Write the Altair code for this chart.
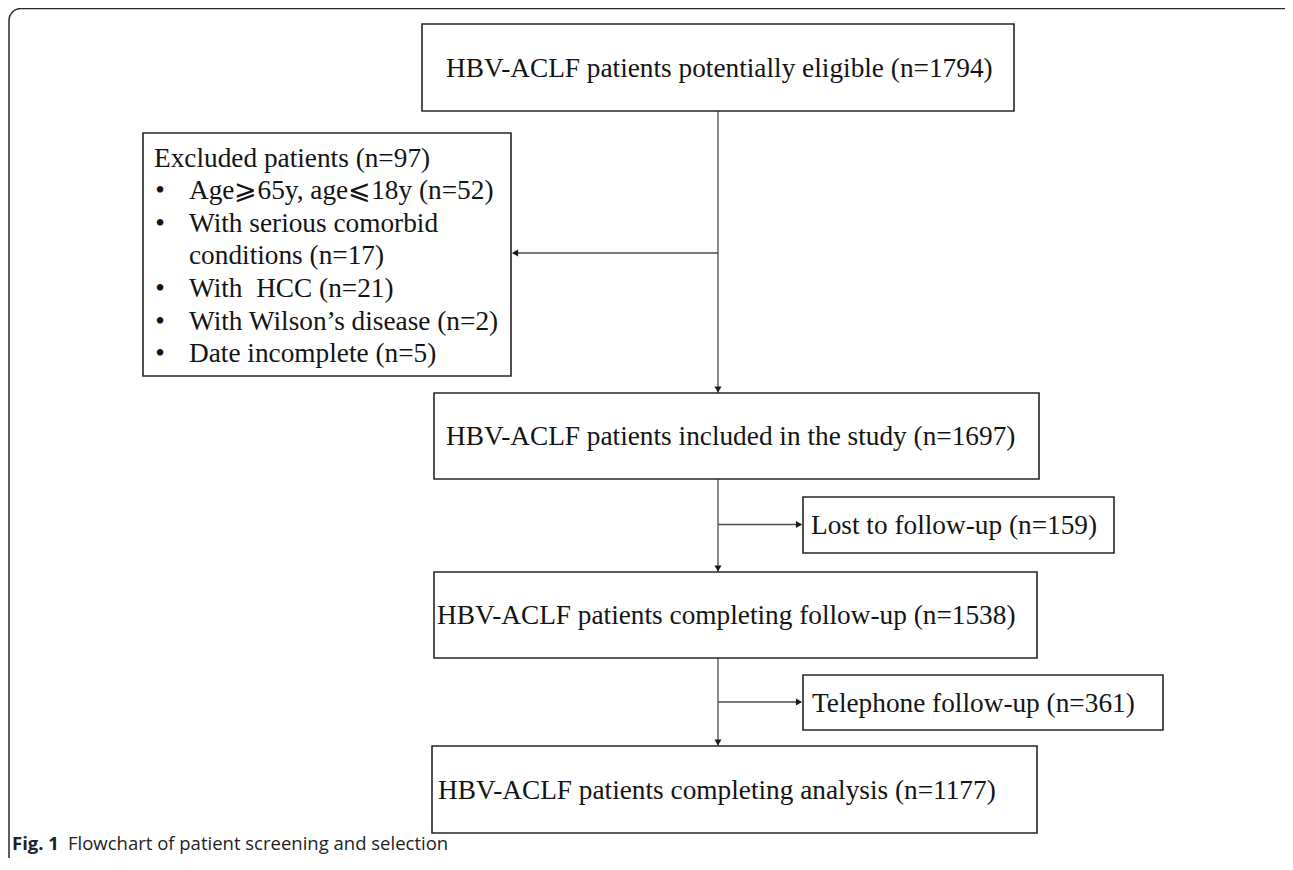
import altair as alt
import pandas as pd

# ---------------- content (text and counts) ----------------
main_labels = [
    "HBV-ACLF patients potentially eligible",
    "HBV-ACLF patients included in the study",
    "HBV-ACLF patients completing follow-up",
    "HBV-ACLF patients completing analysis",
]
main_counts = [1794, 1697, 1538, 1177]

side_labels = ["Lost to follow-up", "Telephone follow-up"]
side_counts = [159, 361]

excluded_title = "Excluded patients"
excluded_total = 97
excluded_reasons = [
    "Age\u2a7e65y, age\u2a7d18y",
    "With serious comorbid\nconditions",
    "With\u00a0 HCC",
    "With Wilson\u2019s disease",
    "Date incomplete",
]
excluded_counts = [52, 17, 21, 2, 5]

caption_bold = "Fig. 1"
caption_text = "Flowchart of patient screening and selection"

# ---------------- layout (page pixel coordinates) ----------------
W, H = 1277, 850
X0, Y0 = 8, 8
SPINE = 718

main_x = [422, 434, 434, 432]
main_x2 = [1014, 1039, 1037, 1037]
main_y = [24, 393, 572, 746]
main_y2 = [111, 479, 658, 833]
main_text_x = [446, 446, 437, 438]

side_x = [803, 803]
side_x2 = [1114, 1163]
side_y = [497, 675]
side_y2 = [553, 730]
side_text_x = [811, 812]

exc_box = dict(x=143, x2=511, y=133, y2=376)
exc_text_x, exc_bullet_x, exc_item_x = 154, 160, 189
exc_first_y, exc_step = 158.5, 32.6
exc_arrow_y = 253

SERIF = "Liberation Serif"
FS = 27.3
INK = "#141414"
LINE = "#4d4d4d"

xs = alt.Scale(domain=[X0, X0 + W], nice=False, zero=False)
ys = alt.Scale(domain=[Y0, Y0 + H], nice=False, zero=False, reverse=True)
X = lambda f: alt.X(f"{f}:Q", scale=xs, axis=None)
Y = lambda f: alt.Y(f"{f}:Q", scale=ys, axis=None)

# ---------------- tables ----------------
boxes = pd.DataFrame({
    "x": main_x + side_x + [exc_box["x"]],
    "x2": main_x2 + side_x2 + [exc_box["x2"]],
    "y": main_y + side_y + [exc_box["y"]],
    "y2": main_y2 + side_y2 + [exc_box["y2"]],
})

frame = pd.DataFrame({"x": [9], "x2": [1300], "y": [8.5], "y2": [900]})

# connectors along the spine and branches
seg = []
arrows = []
seg.append((SPINE, main_y2[0], SPINE, main_y[1]))
arrows.append((SPINE, main_y[1] - 3.5, "triangle-down"))
seg.append((SPINE, exc_arrow_y, exc_box["x2"] + 2, exc_arrow_y))
arrows.append((exc_box["x2"] + 4, exc_arrow_y, "triangle-left"))
for i in range(2):
    seg.append((SPINE, main_y2[i + 1], SPINE, main_y[i + 2]))
    arrows.append((SPINE, main_y[i + 2] - 3.5, "triangle-down"))
    by = (side_y[i] + side_y2[i]) / 2 - 0.5
    seg.append((SPINE, by, side_x[i] - 2, by))
    arrows.append((side_x[i] - 4, by, "triangle-right"))
lines = pd.DataFrame(seg, columns=["x", "y", "x2", "y2"])
heads = pd.DataFrame(arrows, columns=["x", "y", "shape"])

main_text = pd.DataFrame({
    "x": main_text_x,
    "y": [(a + b) / 2 + 1 for a, b in zip(main_y, main_y2)],
    "t": [f"{l} (n={c})" for l, c in zip(main_labels, main_counts)],
})
side_text = pd.DataFrame({
    "x": side_text_x,
    "y": [(a + b) / 2 + 1 for a, b in zip(side_y, side_y2)],
    "t": [f"{l} (n={c})" for l, c in zip(side_labels, side_counts)],
})

exc_lines = [(exc_text_x, f"{excluded_title} (n={excluded_total})")]
bullets_y = []
for reason, cnt in zip(excluded_reasons, excluded_counts):
    parts = reason.split("\n")
    parts[-1] = f"{parts[-1]} (n={cnt})"
    bullets_y.append(len(exc_lines))
    for p in parts:
        exc_lines.append((exc_item_x, p))
exc_text = pd.DataFrame({
    "x": [p[0] for p in exc_lines],
    "y": [exc_first_y + exc_step * i for i in range(len(exc_lines))],
    "t": [p[1] for p in exc_lines],
})
exc_bul = pd.DataFrame({
    "x": [exc_bullet_x] * len(bullets_y),
    "y": [exc_first_y + exc_step * i for i in bullets_y],
    "t": ["\u2022"] * len(bullets_y),
})

cap_b = pd.DataFrame({"x": [12], "y": [850], "t": [caption_bold]})
cap_n = pd.DataFrame({"x": [68], "y": [850], "t": [caption_text]})

# ---------------- layers ----------------
frame_l = alt.Chart(frame).mark_rect(
    fill="white", fillOpacity=0, stroke="#2a2a2a", strokeWidth=1.5, cornerRadius=12, clip=True
).encode(x=X("x"), x2="x2", y=Y("y"), y2="y2")

lines_l = alt.Chart(lines).mark_rule(color=LINE, strokeWidth=1.3).encode(
    x=X("x"), y=Y("y"), x2="x2", y2="y2")

heads_l = alt.Chart(heads).mark_point(filled=True, size=50, color="#1a1a1a", opacity=1).encode(
    x=X("x"), y=Y("y"), shape=alt.Shape("shape:N", scale=None))

boxes_l = alt.Chart(boxes).mark_rect(
    fill="white", stroke="#262626", strokeWidth=1.6
).encode(x=X("x"), x2="x2", y=Y("y"), y2="y2")

def txt(df, size=FS, font=SERIF, weight="normal", baseline="middle", color=INK, align="left"):
    return alt.Chart(df).mark_text(
        align=align, baseline=baseline, font=font, fontSize=size, color=color, fontWeight=weight
    ).encode(x=X("x"), y=Y("y"), text="t:N")

chart = alt.layer(
    frame_l, lines_l, boxes_l, heads_l,
    txt(main_text), txt(side_text), txt(exc_text), txt(exc_bul, align="center"),
    txt(cap_b, size=18.5, font="Open Sans", weight="bold", baseline="alphabetic", color="#222222"),
    txt(cap_n, size=18.5, font="Open Sans", baseline="alphabetic", color="#222222"),
).properties(
    width=W, height=H, padding=0, autosize="none", background="white"
).configure_view(strokeWidth=0)

chart.save("out.html", embed_options={"renderer": "svg", "actions": False})
